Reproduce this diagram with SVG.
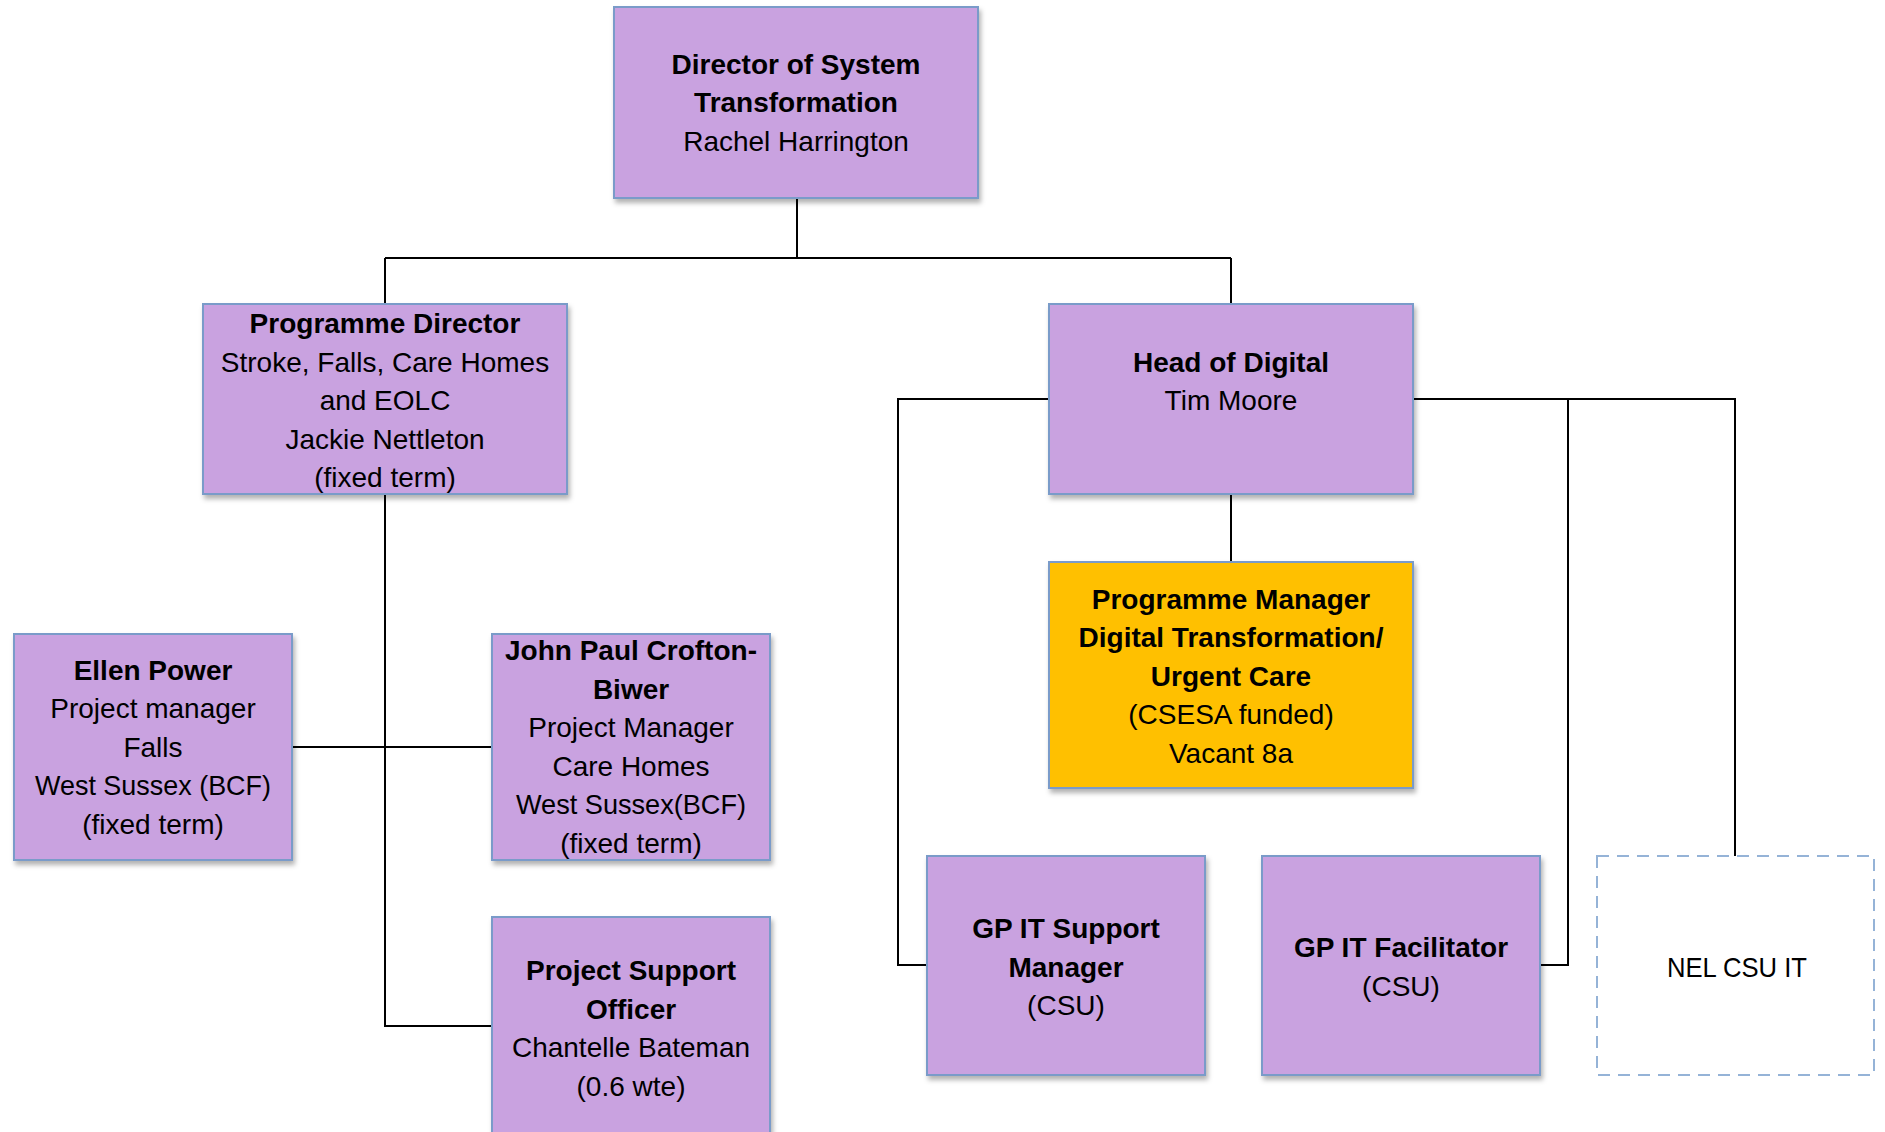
<svg xmlns="http://www.w3.org/2000/svg" width="1885" height="1132" viewBox="0 0 1885 1132">
<defs>
<filter id="sh" x="-10%" y="-10%" width="130%" height="130%">
<feDropShadow dx="2" dy="4" stdDeviation="2.5" flood-color="#000" flood-opacity="0.3"/>
</filter>
<style>
.box{fill:#C9A2E0;stroke:#7A9BC9;stroke-width:2;filter:url(#sh)}
.org{fill:#FFC000;stroke:#7A9BC9;stroke-width:2;filter:url(#sh)}
.dash{fill:#ffffff;stroke:#95B3D7;stroke-width:2;stroke-dasharray:12 8}
text{font-family:"Liberation Sans",Arial,sans-serif;font-size:28px;fill:#000;text-anchor:middle}
.b{font-weight:bold}
.c{stroke:#000;stroke-width:2;fill:none}
</style>
</defs>
<rect width="1885" height="1132" fill="#fff"/>
<g id="connectors">
<path class="c" d="M797 198V258M385 258H1231M385 258V304M1231 258V304"/>
<path class="c" d="M385 494V1026H492M292 747H492"/>
<path class="c" d="M1231 494V562"/>
<path class="c" d="M1049 399H898V965H927"/>
<path class="c" d="M1413 399H1735V856M1568 399V965H1540"/>
</g>
<g id="director">
<rect class="box" x="614" y="7" width="364" height="191"/>
<text x="796" y="74" class="b">Director of System</text>
<text x="796" y="112" class="b">Transformation</text>
<text x="796" y="151">Rachel Harrington</text>
</g>
<g id="programme-director">
<rect class="box" x="203" y="304" width="364" height="190"/>
<text x="385" y="333" class="b">Programme Director</text>
<text x="385" y="372">Stroke, Falls, Care Homes</text>
<text x="385" y="410">and EOLC</text>
<text x="385" y="449">Jackie Nettleton</text>
<text x="385" y="487">(fixed term)</text>
</g>
<g id="head-of-digital">
<rect class="box" x="1049" y="304" width="364" height="190"/>
<text x="1231" y="372" class="b">Head of Digital</text>
<text x="1231" y="410">Tim Moore</text>
</g>
<g id="programme-manager">
<rect class="org" x="1049" y="562" width="364" height="226"/>
<text x="1231" y="609" class="b">Programme Manager</text>
<text x="1231" y="647" class="b">Digital Transformation/</text>
<text x="1231" y="686" class="b">Urgent Care</text>
<text x="1231" y="724">(CSESA funded)</text>
<text x="1231" y="763">Vacant 8a</text>
</g>
<g id="ellen-power">
<rect class="box" x="14" y="634" width="278" height="226"/>
<text x="153" y="680" class="b">Ellen Power</text>
<text x="153" y="718">Project manager</text>
<text x="153" y="757">Falls</text>
<text x="153" y="795" textLength="236" lengthAdjust="spacingAndGlyphs">West Sussex (BCF)</text>
<text x="153" y="834">(fixed term)</text>
</g>
<g id="john-paul">
<rect class="box" x="492" y="634" width="278" height="226"/>
<text x="631" y="660" class="b">John Paul Crofton-</text>
<text x="631" y="699" class="b">Biwer</text>
<text x="631" y="737">Project Manager</text>
<text x="631" y="776">Care Homes</text>
<text x="631" y="814" textLength="230" lengthAdjust="spacingAndGlyphs">West Sussex(BCF)</text>
<text x="631" y="853">(fixed term)</text>
</g>
<g id="project-support">
<rect class="box" x="492" y="917" width="278" height="230"/>
<text x="631" y="980" class="b">Project Support</text>
<text x="631" y="1019" class="b">Officer</text>
<text x="631" y="1057">Chantelle Bateman</text>
<text x="631" y="1096">(0.6 wte)</text>
</g>
<g id="gp-it-support">
<rect class="box" x="927" y="856" width="278" height="219"/>
<text x="1066" y="938" class="b">GP IT Support</text>
<text x="1066" y="977" class="b">Manager</text>
<text x="1066" y="1015">(CSU)</text>
</g>
<g id="gp-it-facilitator">
<rect class="box" x="1262" y="856" width="278" height="219"/>
<text x="1401" y="957" class="b">GP IT Facilitator</text>
<text x="1401" y="996">(CSU)</text>
</g>
<g id="nel-csu-it">
<rect class="dash" x="1597" y="856" width="277" height="219"/>
<text x="1737" y="977" textLength="140" lengthAdjust="spacingAndGlyphs">NEL CSU IT</text>
</g>
</svg>
